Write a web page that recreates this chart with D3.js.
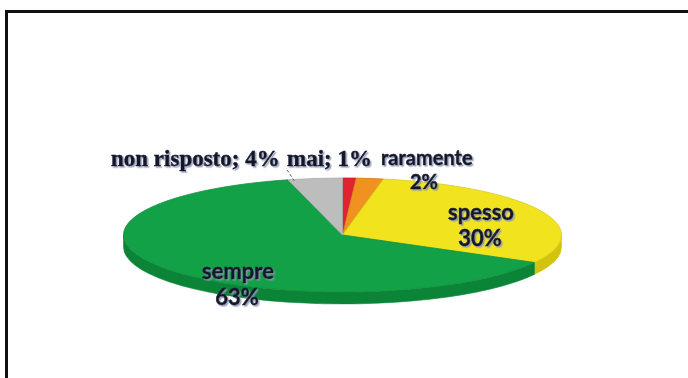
<!DOCTYPE html>
<html>
<head>
<meta charset="utf-8">
<script src="https://cdn.jsdelivr.net/npm/d3@7"></script>
<style>
  html, body { margin: 0; padding: 0; background: #fff; }
  svg { display: block; }
</style>
</head>
<body>
<div id="chart"></div>
<script>
// slices, clockwise from 12 o'clock
const categories = ["mai", "raramente", "spesso", "sempre", "non risposto"];
const values = [1, 2, 30, 63, 4];
const colors = ["#e0232e", "#ef921f", "#f1e41f", "#13a148", "#bdbdbd"];
const sideColors = ["#b81a22", "#c87414", "#d2c40e", "#0c8437", "#9a9a9a"];

const width = 688, height = 378;
const cx = 342.5, cy = 235, rx = 219, ry = 57, depth = 12;

const svg = d3.select('#chart')
              .append('svg')
              .attr('width', width)
              .attr('height', height);

// soft bluish shadow under the labels
svg.append('defs')
   .append('filter')
   .attr('id', 'shadow')
   .attr('x', '-10%').attr('y', '-20%').attr('width', '130%').attr('height', '150%')
   .append('feDropShadow')
   .attr('dx', 1.5).attr('dy', 1.5)
   .attr('stdDeviation', 0.6)
   .attr('flood-color', '#8a94b4')
   .attr('flood-opacity', 0.85);

// scanned frame
svg.append('rect')
   .attr('x', 6.5).attr('y', 11.5)
   .attr('width', 720).attr('height', 420)
   .attr('fill', 'none')
   .attr('stroke', '#111')
   .attr('stroke-width', 3);

const pie = d3.pie().sort(null).value(d => d);
const arcs = pie(values);

const pt = (a, dy = 0) => [cx + rx * Math.sin(a), cy - ry * Math.cos(a) + dy];

// side walls, only the front half (angles PI/2 .. 3PI/2) shows
const g = svg.append('g');
arcs.forEach((d, i) => {
    const a0 = Math.max(d.startAngle, Math.PI / 2);
    const a1 = Math.min(d.endAngle, 3 * Math.PI / 2);
    if (a1 <= a0) return;
    const p0 = pt(a0), p1 = pt(a1), q1 = pt(a1, depth), q0 = pt(a0, depth);
    const large = (a1 - a0) > Math.PI ? 1 : 0;
    const path = `M${p0}A${rx},${ry} 0 ${large} 1 ${p1}L${q1}A${rx},${ry} 0 ${large} 0 ${q0}Z`;
    g.append('path')
     .attr('d', path)
     .attr('fill', sideColors[i])
     .attr('stroke', sideColors[i])
     .attr('stroke-width', 0.6);
});

// top surface: circular arcs squashed into an ellipse
const arc = d3.arc().innerRadius(0).outerRadius(rx);
svg.append('g')
   .attr('transform', `translate(${cx},${cy}) scale(1,${ry / rx})`)
   .selectAll('path')
   .data(arcs)
   .enter()
   .append('path')
   .attr('d', arc)
   .attr('fill', (d, i) => colors[i])
   .attr('stroke', (d, i) => d3.color(colors[i]).darker(0.3))
   .attr('stroke-width', 0.8)
   .attr('vector-effect', 'non-scaling-stroke');

// leader line for non risposto
const gray = arcs[4];
const lp = pt((gray.startAngle + gray.endAngle) / 2 - 0.05);
svg.append('line')
   .attr('x1', lp[0] - 10).attr('y1', lp[1] + 2)
   .attr('x2', 286).attr('y2', 168)
   .attr('stroke', '#666')
   .attr('stroke-width', 1)
   .attr('stroke-dasharray', '3,2');

// labels (text, font, size, x, y)
const serif = "'Liberation Serif', serif";
const sans = "Lato, 'Open Sans', sans-serif";
const labels = [
    { t: "non risposto; 4%", f: serif, s: 23, x: 111, y: 166, a: 'start' },
    { t: "mai; 1%", f: serif, s: 23, x: 287, y: 166, a: 'start' },
    { t: "raramente", f: sans, s: 20, x: 381, y: 165, a: 'start' },
    { t: "2%", f: sans, s: 20, x: 424, y: 189, a: 'middle' },
    { t: "spesso", f: sans, s: 22, x: 481, y: 220, a: 'middle' },
    { t: "30%", f: sans, s: 22, x: 480, y: 246, a: 'middle' },
    { t: "sempre", f: sans, s: 22, x: 238, y: 279, a: 'middle' },
    { t: "63%", f: sans, s: 22, x: 237, y: 305, a: 'middle' }
];

svg.append('g')
   .attr('filter', 'url(#shadow)')
   .selectAll('text')
   .data(labels)
   .enter()
   .append('text')
   .attr('x', d => d.x).attr('y', d => d.y)
   .attr('text-anchor', d => d.a)
   .style('font-family', d => d.f)
   .style('font-size', d => d.s + 'px')
   .style('font-weight', 'bold')
   .attr('fill', '#15172a')
   .attr('stroke', '#15172a')
   .attr('stroke-width', 0.5)
   .text(d => d.t);
</script>
</body>
</html>
